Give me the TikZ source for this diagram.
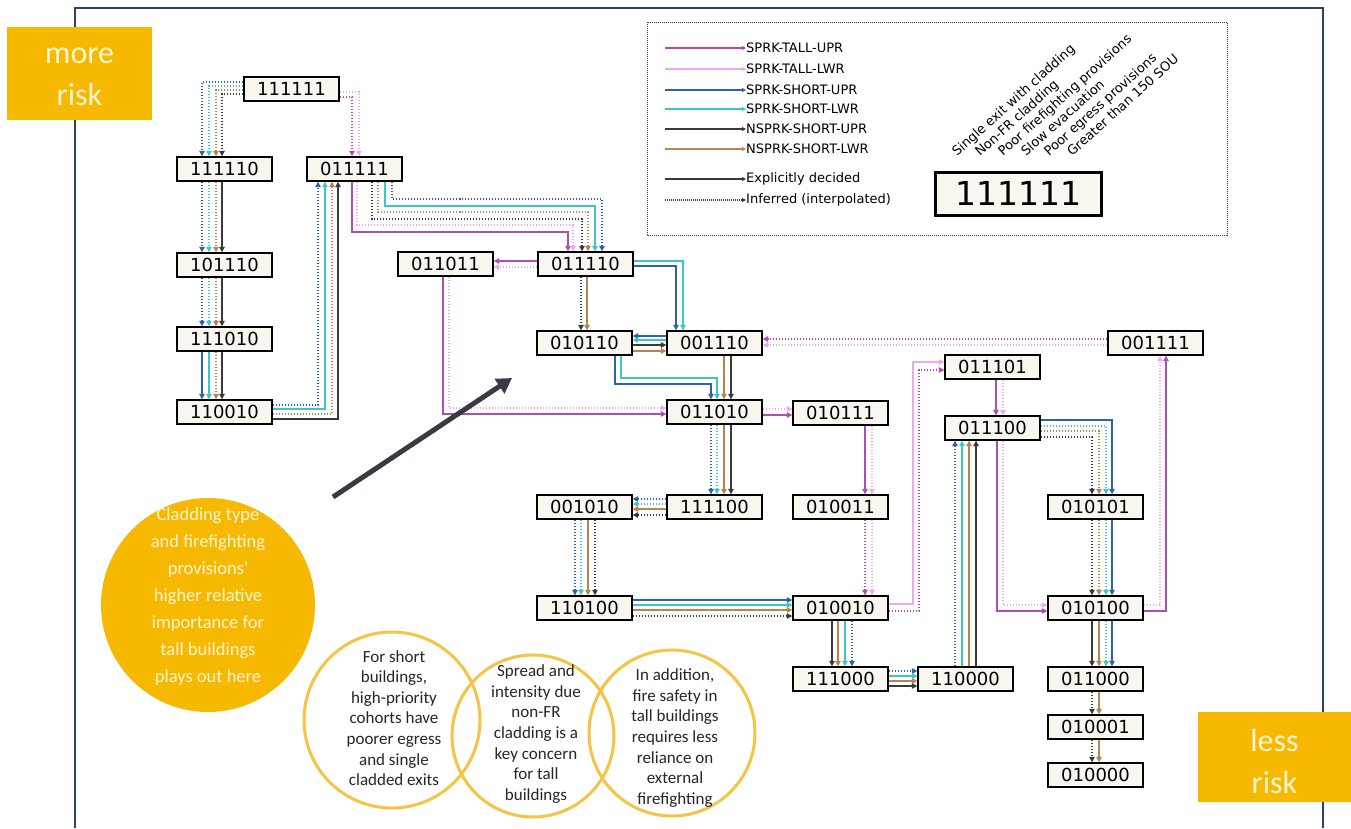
\documentclass[tikz,border=0pt]{standalone}
\usepackage{fontspec}
\usetikzlibrary{arrows.meta,calc}
\newfontfamily\dvfont{DejaVu Sans}
\newfontfamily\clfont{Carlito}
\definecolor{cPU}{HTML}{B04CB4}
\definecolor{cPK}{HTML}{EBAAEB}
\definecolor{cBL}{HTML}{2E62AE}
\definecolor{cCY}{HTML}{3EC6C6}
\definecolor{cDK}{HTML}{3A3A3A}
\definecolor{cBR}{HTML}{B8844C}
\definecolor{cNode}{HTML}{F8F6EF}
\definecolor{cOr}{HTML}{F7B900}
\definecolor{cGold}{HTML}{F5C445}
\definecolor{cFrame}{HTML}{2E4162}
\definecolor{cLt}{HTML}{FFF4D4}
\definecolor{cArr}{HTML}{383C42}
\begin{document}
\begin{tikzpicture}[x=1pt,y=-1pt,
  st/.style={draw=black, line width=1.4pt, fill=cNode, minimum width=95pt, minimum height=24pt, inner sep=0pt, font=\dvfont\fontsize{18}{20}\selectfont},
  ed/.style={line width=1.5pt, -{Triangle[length=5.5pt,width=5.5pt]}},
  dt/.style={dash pattern=on 1.6pt off 1.4pt},
  pu/.style={color=cPU}, pk/.style={color=cPK}, bl/.style={color=cBL},
  cy/.style={color=cCY}, dk/.style={color=cDK}, br/.style={color=cBR},
  lg/.style={anchor=west, inner sep=0pt, font=\dvfont\fontsize{13}{15}\selectfont},
  lgl/.style={line width=1.1pt, -{Triangle[length=4pt,width=4pt]}},
  rot/.style={anchor=base west, inner sep=0pt, rotate=42, font=\dvfont\fontsize{13}{15}\selectfont},
  riskbox/.style={fill=cOr, inner sep=0pt},
  risktext/.style={text=cLt, align=center, inner sep=0pt, font=\clfont\fontsize{32}{42}\selectfont},
  ctext/.style={align=center, inner sep=0pt, font=\clfont\fontsize{17}{20.6}\selectfont, text=black!85},
]
\useasboundingbox (0,0) rectangle (1351,828);
\fill[white] (0,0) rectangle (1351,828);
% frame
\draw[cFrame, line width=2pt] (75,828) -- (75,8) -- (1323,8) -- (1323,828);
% risk boxes
\node[riskbox, minimum width=145pt, minimum height=93pt] (more) at (79.5,73.5) {};
\node[risktext] (moret) at (79.5,77) {more\\risk};
\node[riskbox, minimum width=153pt, minimum height=90pt] (less) at (1274.5,757) {};
\node[risktext] (lesst) at (1274.5,761) {less\\risk};

% legend
\draw[cDK, line width=1pt, dash pattern=on 1pt off 1pt] (647,22) rectangle (1227,235);
\node[lg] (lgA) at (746,48) {SPRK-TALL-UPR};
\node[lg] (lgB) at (746,69) {SPRK-TALL-LWR};
\node[lg] (lgC) at (746,90) {SPRK-SHORT-UPR};
\node[lg] (lgD) at (746,109) {SPRK-SHORT-LWR};
\node[lg] (lgE) at (746,129) {NSPRK-SHORT-UPR};
\node[lg] (lgF) at (746,149) {NSPRK-SHORT-LWR};
\node[lg] (lgG) at (746,179) {Explicitly decided};
\node[lg] (lgH) at (746,200) {Inferred (interpolated)};
\draw[lgl,pu] (665,48) -- (lgA.west);
\draw[lgl,pk] (665,69) -- (lgB.west);
\draw[lgl,bl] (665,90) -- (lgC.west);
\draw[lgl,cy] (665,109) -- (lgD.west);
\draw[lgl,dk] (665,129) -- (lgE.west);
\draw[lgl,br] (665,149) -- (lgF.west);
\draw[lgl,dk] (665,179) -- (lgG.west);
\draw[lgl,dk,dash pattern=on 1pt off 1pt] (665,200) -- (lgH.west);
\node[draw=black, line width=3pt, fill=cNode, minimum width=166pt, minimum height=43pt, inner sep=0pt, font=\dvfont\fontsize{33}{36}\selectfont] (key) at (1018.5,193.5) {111111};
\node[rot] (r1) at (957,157) {Single exit with cladding};
\node[rot] (r2) at (980,157) {Non-FR cladding};
\node[rot] (r3) at (1003,157) {Poor firefighting provisions};
\node[rot] (r4) at (1026,157) {Slow evacuation};
\node[rot] (r5) at (1049,157) {Poor egress provisions};
\node[rot] (r6) at (1072,157) {Greater than 150 SOU};

% nodes
\node[st] (n111111) at (291.5,89) {111111};
\node[st] (n111110) at (224.5,169) {111110};
\node[st] (n011111) at (354.5,169) {011111};
\node[st] (n101110) at (224.5,265) {101110};
\node[st] (n111010) at (224.5,339) {111010};
\node[st] (n110010) at (224.5,412) {110010};
\node[st] (n011011) at (445.5,264) {011011};
\node[st] (n011110) at (585.5,264) {011110};
\node[st] (n010110) at (584.5,343) {010110};
\node[st] (n001110) at (714.5,343) {001110};
\node[st] (n011010) at (714.5,412) {011010};
\node[st] (n010111) at (840.5,413) {010111};
\node[st] (n001010) at (584.5,507) {001010};
\node[st] (n111100) at (714.5,507) {111100};
\node[st] (n010011) at (840.5,507) {010011};
\node[st] (n110100) at (584.5,608) {110100};
\node[st] (n010010) at (840.5,608) {010010};
\node[st] (n111000) at (840.5,679) {111000};
\node[st] (n110000) at (965.5,679) {110000};
\node[st] (n011101) at (992.5,367) {011101};
\node[st] (n011100) at (992.5,428) {011100};
\node[st] (n001111) at (1155.5,343) {001111};
\node[st] (n010101) at (1095.5,507) {010101};
\node[st] (n010100) at (1095.5,608) {010100};
\node[st] (n011000) at (1095.5,679) {011000};
\node[st] (n010001) at (1095.5,727) {010001};
\node[st] (n010000) at (1095.5,775) {010000};

% E1 111111 -> 111110
\draw[ed,bl,dt] (n111111.west |- 0,82) -| (202,0 |- n111110.north);
\draw[ed,cy,dt] (n111111.west |- 0,86) -| (209,0 |- n111110.north);
\draw[ed,br,dt] (n111111.west |- 0,90) -| (216,0 |- n111110.north);
\draw[ed,dk,dt] (n111111.west |- 0,94) -| (222,0 |- n111110.north);
% E2 111111 -> 011111
\draw[ed,pk,dt] (n111111.east |- 0,92) -| (359,0 |- n011111.north);
\draw[ed,pu,dt] (n111111.east |- 0,97) -| (352,0 |- n011111.north);
% E3 111110 -> 101110
\draw[ed,bl,dt] (202,0 |- n111110.south) -- (202,0 |- n101110.north);
\draw[ed,cy,dt] (209,0 |- n111110.south) -- (209,0 |- n101110.north);
\draw[ed,br,dt] (216,0 |- n111110.south) -- (216,0 |- n101110.north);
\draw[ed,dk] (222,0 |- n111110.south) -- (222,0 |- n101110.north);
% E4 101110 -> 111010
\draw[ed,bl,dt] (202,0 |- n101110.south) -- (202,0 |- n111010.north);
\draw[ed,cy,dt] (209,0 |- n101110.south) -- (209,0 |- n111010.north);
\draw[ed,br,dt] (216,0 |- n101110.south) -- (216,0 |- n111010.north);
\draw[ed,dk] (222,0 |- n101110.south) -- (222,0 |- n111010.north);
% E5 111010 -> 110010
\draw[ed,bl] (202,0 |- n111010.south) -- (202,0 |- n110010.north);
\draw[ed,cy] (209,0 |- n111010.south) -- (209,0 |- n110010.north);
\draw[ed,br,dt] (216,0 |- n111010.south) -- (216,0 |- n110010.north);
\draw[ed,dk] (222,0 |- n111010.south) -- (222,0 |- n110010.north);
% E6 110010 -> 011111
\draw[ed,bl,dt] (n110010.east |- 0,405) -| (318,0 |- n011111.south);
\draw[ed,cy] (n110010.east |- 0,409) -| (325,0 |- n011111.south);
\draw[ed,br,dt] (n110010.east |- 0,414) -| (332,0 |- n011111.south);
\draw[ed,dk] (n110010.east |- 0,419) -| (338,0 |- n011111.south);
% E7 011111 -> 011110
\draw[ed,pu] (352,0 |- n011111.south) |- (460,232) -| (568,0 |- n011110.north);
\draw[ed,pk,dt] (357,0 |- n011111.south) |- (460,225) -| (573,0 |- n011110.north);
\draw[ed,dk,dt] (372,0 |- n011111.south) |- (460,219) -| (582,0 |- n011110.north);
\draw[ed,br,dt] (378,0 |- n011111.south) |- (460,212) -| (588,0 |- n011110.north);
\draw[ed,cy] (385,0 |- n011111.south) |- (460,206) -| (595,0 |- n011110.north);
\draw[ed,bl,dt] (392,0 |- n011111.south) |- (460,199) -| (602,0 |- n011110.north);
% E8 011110 -> 011011
\draw[ed,pu] (n011110.west |- 0,261) -- (n011011.east |- 0,261);
\draw[ed,pk,dt] (n011110.west |- 0,267) -- (n011011.east |- 0,267);
% E9 011011 -> 011010
\draw[ed,pu] (443,0 |- n011011.south) |- (n011010.west |- 0,414);
\draw[ed,pk,dt] (449,0 |- n011011.south) |- (n011010.west |- 0,408);
% E10 011110 -> 010110
\draw[ed,dk,dt] (581,0 |- n011110.south) -- (581,0 |- n010110.north);
\draw[ed,br] (587,0 |- n011110.south) -- (587,0 |- n010110.north);
% E11 011110 -> 001110
\draw[ed,cy] (n011110.east |- 0,261) -| (683,0 |- n001110.north);
\draw[ed,bl] (n011110.east |- 0,266) -| (676,0 |- n001110.north);
% E12 001110 <-> 010110
\draw[ed,bl] (n001110.west |- 0,336) -- (n010110.east |- 0,336);
\draw[ed,cy] (n001110.west |- 0,340) -- (n010110.east |- 0,340);
\draw[ed,dk] (n010110.east |- 0,345) -- (n001110.west |- 0,345);
\draw[ed,br] (n010110.east |- 0,351) -- (n001110.west |- 0,351);
% E13 010110 -> 011010
\draw[ed,bl] (615,0 |- n010110.south) |- (660,384) -| (711,0 |- n011010.north);
\draw[ed,cy] (621,0 |- n010110.south) |- (660,378) -| (717,0 |- n011010.north);
% E14 001110 -> 011010
\draw[ed,br] (724,0 |- n001110.south) -- (724,0 |- n011010.north);
\draw[ed,dk] (731,0 |- n001110.south) -- (731,0 |- n011010.north);
% E15 001111 -> 001110
\draw[ed,pu,dt] (n001111.west |- 0,339) -- (n001110.east |- 0,339);
\draw[ed,pk,dt] (n001111.west |- 0,345) -- (n001110.east |- 0,345);
% E16 011010 -> 010111
\draw[ed,pk,dt] (n011010.east |- 0,409) -- (n010111.west |- 0,409);
\draw[ed,pu] (n011010.east |- 0,415) -- (n010111.west |- 0,415);
% E17 011010 -> 111100
\draw[ed,bl,dt] (711,0 |- n011010.south) -- (711,0 |- n111100.north);
\draw[ed,cy,dt] (717,0 |- n011010.south) -- (717,0 |- n111100.north);
\draw[ed,br] (724,0 |- n011010.south) -- (724,0 |- n111100.north);
\draw[ed,dk] (731,0 |- n011010.south) -- (731,0 |- n111100.north);
% E18 111100 -> 001010
\draw[ed,bl,dt] (n111100.west |- 0,499) -- (n001010.east |- 0,499);
\draw[ed,cy,dt] (n111100.west |- 0,504) -- (n001010.east |- 0,504);
\draw[ed,br] (n111100.west |- 0,509) -- (n001010.east |- 0,509);
\draw[ed,dk,dt] (n111100.west |- 0,515) -- (n001010.east |- 0,515);
% E19 001010 -> 110100
\draw[ed,bl,dt] (575,0 |- n001010.south) -- (575,0 |- n110100.north);
\draw[ed,cy,dt] (581,0 |- n001010.south) -- (581,0 |- n110100.north);
\draw[ed,br] (588,0 |- n001010.south) -- (588,0 |- n110100.north);
\draw[ed,dk,dt] (595,0 |- n001010.south) -- (595,0 |- n110100.north);
% E20 110100 -> 010010
\draw[ed,bl] (n110100.east |- 0,600) -- (n010010.west |- 0,600);
\draw[ed,cy] (n110100.east |- 0,605) -- (n010010.west |- 0,605);
\draw[ed,br] (n110100.east |- 0,610) -- (n010010.west |- 0,610);
\draw[ed,dk,dt] (n110100.east |- 0,616) -- (n010010.west |- 0,616);
% E21 010111 -> 010011
\draw[ed,pu] (865,0 |- n010111.south) -- (865,0 |- n010011.north);
\draw[ed,pk,dt] (872,0 |- n010111.south) -- (872,0 |- n010011.north);
% E22 010011 -> 010010
\draw[ed,pu,dt] (865,0 |- n010011.south) -- (865,0 |- n010010.north);
\draw[ed,pk,dt] (872,0 |- n010011.south) -- (872,0 |- n010010.north);
% E23 010010 -> 011101
\draw[ed,pk] (n010010.east |- 0,604) -| (913,480) |- (n011101.west |- 0,362);
\draw[ed,pu,dt] (n010010.east |- 0,611) -| (919,480) |- (n011101.west |- 0,370);
% E24 011101 -> 011100
\draw[ed,pu] (996,0 |- n011101.south) -- (996,0 |- n011100.north);
\draw[ed,pk,dt] (1003,0 |- n011101.south) -- (1003,0 |- n011100.north);
% E25 010010 -> 111000
\draw[ed,dk] (832,0 |- n010010.south) -- (832,0 |- n111000.north);
\draw[ed,br] (838,0 |- n010010.south) -- (838,0 |- n111000.north);
\draw[ed,cy] (845,0 |- n010010.south) -- (845,0 |- n111000.north);
\draw[ed,bl,dt] (852,0 |- n010010.south) -- (852,0 |- n111000.north);
% E26 111000 -> 110000
\draw[ed,bl,dt] (n111000.east |- 0,671) -- (n110000.west |- 0,671);
\draw[ed,cy] (n111000.east |- 0,676) -- (n110000.west |- 0,676);
\draw[ed,br] (n111000.east |- 0,681) -- (n110000.west |- 0,681);
\draw[ed,dk] (n111000.east |- 0,686) -- (n110000.west |- 0,686);
% E27 110000 -> 011100
\draw[ed,bl,dt] (955,0 |- n110000.north) -- (955,0 |- n011100.south);
\draw[ed,cy] (962,0 |- n110000.north) -- (962,0 |- n011100.south);
\draw[ed,br] (969,0 |- n110000.north) -- (969,0 |- n011100.south);
\draw[ed,dk] (976,0 |- n110000.north) -- (976,0 |- n011100.south);
% E28 011100 -> 010101
\draw[ed,bl] (n011100.east |- 0,420) -| (1112,0 |- n010101.north);
\draw[ed,cy,dt] (n011100.east |- 0,426) -| (1106,0 |- n010101.north);
\draw[ed,br,dt] (n011100.east |- 0,431) -| (1099,0 |- n010101.north);
\draw[ed,dk,dt] (n011100.east |- 0,437) -| (1092,0 |- n010101.north);
% E29 011100 -> 010100
\draw[ed,pu] (997,0 |- n011100.south) |- (n010100.west |- 0,611);
\draw[ed,pk,dt] (1003,0 |- n011100.south) |- (n010100.west |- 0,605);
% E30 010101 -> 010100
\draw[ed,dk,dt] (1092,0 |- n010101.south) -- (1092,0 |- n010100.north);
\draw[ed,br,dt] (1099,0 |- n010101.south) -- (1099,0 |- n010100.north);
\draw[ed,cy,dt] (1106,0 |- n010101.south) -- (1106,0 |- n010100.north);
\draw[ed,bl] (1112,0 |- n010101.south) -- (1112,0 |- n010100.north);
% E31 010100 -> 001111
\draw[ed,pk,dt] (n010100.east |- 0,605) -| (1160,0 |- n001111.south);
\draw[ed,pu] (n010100.east |- 0,611) -| (1166,0 |- n001111.south);
% E32 010100 -> 011000
\draw[ed,dk] (1092,0 |- n010100.south) -- (1092,0 |- n011000.north);
\draw[ed,br] (1099,0 |- n010100.south) -- (1099,0 |- n011000.north);
\draw[ed,cy,dt] (1106,0 |- n010100.south) -- (1106,0 |- n011000.north);
\draw[ed,bl] (1112,0 |- n010100.south) -- (1112,0 |- n011000.north);
% E33, E34
\draw[ed,dk,dt] (1092,0 |- n011000.south) -- (1092,0 |- n010001.north);
\draw[ed,br] (1099,0 |- n011000.south) -- (1099,0 |- n010001.north);
\draw[ed,dk,dt] (1092,0 |- n010001.south) -- (1092,0 |- n010000.north);
\draw[ed,br] (1099,0 |- n010001.south) -- (1099,0 |- n010000.north);

% big orange circle and arrow
\node[circle, fill=cOr, minimum size=214pt, inner sep=0pt] (bigc) at (208,605) {};
\node[align=center, inner sep=0pt, text=cLt, font=\clfont\fontsize{18.5}{27}\selectfont] (bigt) at (208,597) {Cladding type\\and firefighting\\provisions'\\higher relative\\importance for\\tall buildings\\plays out here};
\coordinate (arrS) at (333,497);
\coordinate (arrE) at (512,378);
\draw[cArr, line width=5pt, -{Triangle[length=15pt,width=17pt]}] (arrS) -- (arrE);

% small circles
\node[circle, fill=white, minimum size=176pt, inner sep=0pt] (c1) at (392,720) {};
\node[circle, fill=white, minimum size=162pt, inner sep=0pt] (c2) at (533,736) {};
\node[circle, fill=white, minimum size=166pt, inner sep=0pt] (c3) at (672,733) {};
\draw[cGold, line width=3pt] (c1.center) circle[radius=88];
\draw[cGold, line width=3pt] (c2.center) circle[radius=81];
\draw[cGold, line width=3pt] (c3.center) circle[radius=83];
\node[ctext] (t1) at (394,718) {For short\\buildings,\\high-priority\\cohorts have\\poorer egress\\and single\\cladded exits};
\node[ctext] (t2) at (536,734) {Spread and\\intensity due\\non-FR\\cladding is a\\key concern\\for tall\\buildings};
\node[ctext] (t3) at (675,738) {In addition,\\fire safety in\\tall buildings\\requires less\\reliance on\\external\\firefighting};
\end{tikzpicture}
\end{document}
